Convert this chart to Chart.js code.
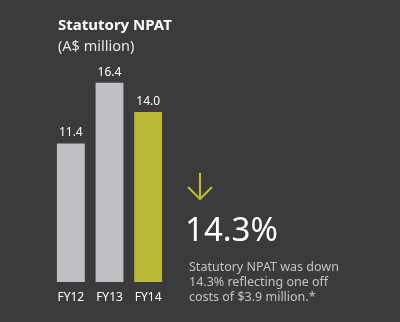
<!DOCTYPE html>
<html><head><meta charset="utf-8">
<script src="https://cdn.jsdelivr.net/npm/chart.js@4/dist/chart.umd.min.js"></script>
<style>
html,body{margin:0;padding:0;background:#3b3b3b;}
#wrap{position:relative;width:400px;height:322px;background:#3b3b3b;overflow:hidden;font-family:"Noto Sans",sans-serif;}
canvas{position:absolute;left:0;top:0;}
.t{position:absolute;white-space:nowrap;}
#title{left:58px;top:14px;font-size:15px;font-weight:bold;color:#ffffff;}
#sub{left:58px;top:35px;font-size:14.5px;color:#e6e6e6;}
#big{left:185px;top:209px;font-size:33px;color:#ffffff;line-height:40px;}
#para{left:189px;top:259px;font-size:12.5px;line-height:15px;color:#c4c4c4;}
#arrow{position:absolute;left:186px;top:172px;}
</style></head>
<body><div id="wrap">
<canvas id="c" width="400" height="322"></canvas>
<div class="t" id="title">Statutory NPAT</div>
<div class="t" id="sub">(A$ million)</div>
<svg id="arrow" width="30" height="30" viewBox="0 0 30 30"><path d="M14 1 L14 27 M2 15 L14 27 L26 15" stroke="#bcba36" stroke-width="2.2" fill="none"/></svg>
<div class="t" id="big">14.3%</div>
<div class="t" id="para">Statutory NPAT was down<br>14.3% reflecting one off<br>costs of $3.9 million.*</div>
</div>
<script>
const categories = ["FY12", "FY13", "FY14"];
const npat = [11.4, 16.4, 14.0];
const valueLabels = ["11.4", "16.4", "14.0"];
const barColors = ["#c0c0c4", "#c0c0c4", "#bab935"];

const labelPlugin = {
  id: 'labels',
  afterDatasetsDraw(chart) {
    const ctx = chart.ctx;
    const meta = chart.getDatasetMeta(0);
    const x = chart.scales.x;
    ctx.save();
    ctx.fillStyle = '#ffffff';
    ctx.textAlign = 'center';
    ctx.textBaseline = 'alphabetic';
    ctx.font = '12px "Noto Sans"';
    meta.data.forEach((bar, i) => {
      ctx.fillText(valueLabels[i], bar.x, bar.y - 7);
      ctx.fillText(categories[i], x.getPixelForValue(i), chart.chartArea.bottom + 19);
    });
    ctx.restore();
  }
};

new Chart(document.getElementById('c'), {
  type: 'bar',
  data: { labels: categories, datasets: [{ data: npat, backgroundColor: barColors, borderWidth: 0 }] },
  options: {
    responsive: false, animation: false,
    layout: { padding: { left: 51.5, right: 232.5, top: 39, bottom: 40 } },
    plugins: { legend: { display: false }, tooltip: { enabled: false } },
    scales: {
      x: { display: false, categoryPercentage: 1, barPercentage: 0.646 },
      y: { display: false, min: 0, max: 20 }
    }
  },
  plugins: [labelPlugin]
});
</script>
</body></html>
